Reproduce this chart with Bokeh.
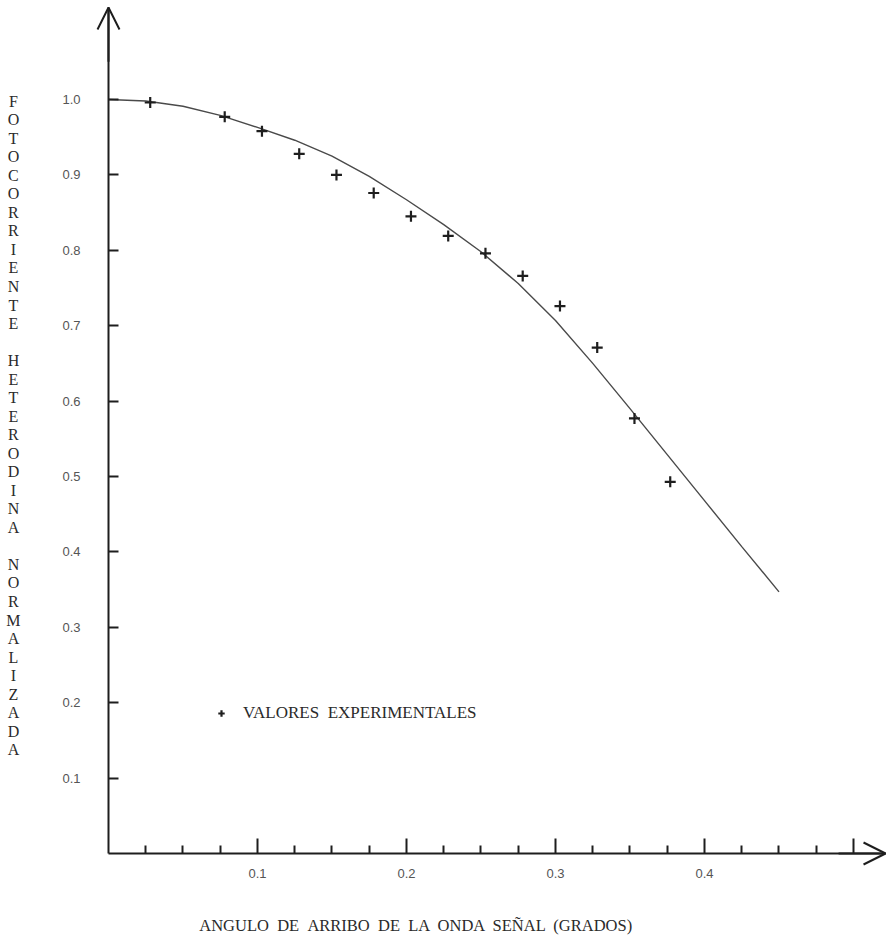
from bokeh.plotting import figure
from bokeh.models import (Range1d, FixedTicker, Arrow, OpenHead, Label,
                          Legend, LegendItem, PrintfTickFormatter)
from bokeh.embed import file_html
from bokeh.resources import INLINE

# ---- data ----
angle_exp = [0.028, 0.078, 0.103, 0.128, 0.153, 0.178, 0.203, 0.228,
             0.253, 0.278, 0.303, 0.328, 0.353, 0.377]
current_exp = [0.996, 0.977, 0.958, 0.928, 0.900, 0.876, 0.845, 0.819,
               0.796, 0.766, 0.726, 0.671, 0.577, 0.493]

angle_fit = [0.0, 0.025, 0.05, 0.075, 0.1, 0.125, 0.15, 0.175, 0.2, 0.225,
             0.25, 0.275, 0.3, 0.325, 0.35, 0.375, 0.4, 0.425, 0.45]
current_fit = [1.000, 0.998, 0.991, 0.979, 0.963, 0.946, 0.925, 0.898, 0.867,
               0.834, 0.798, 0.756, 0.707, 0.650, 0.590, 0.529, 0.468,
               0.407, 0.347]

x_major_ticks = [0.1, 0.2, 0.3, 0.4, 0.5]
x_minor_ticks = [0.025, 0.05, 0.075, 0.125, 0.15, 0.175, 0.225, 0.25, 0.275,
                 0.325, 0.35, 0.375, 0.425, 0.45, 0.475]
x_tick_labels = {0.1: "0.1", 0.2: "0.2", 0.3: "0.3", 0.4: "0.4", 0.5: ""}
y_major_ticks = [0.1, 0.2, 0.3, 0.4, 0.5, 0.6, 0.7, 0.8, 0.9, 1.0]

legend_words = ["VALORES", "EXPERIMENTALES"]
x_title_words = ["ANGULO", "DE", "ARRIBO", "DE", "LA", "ONDA", "SEÑAL",
                 "(GRADOS)"]
y_title_words = ["FOTOCORRIENTE", "HETERODINA", "NORMALIZADA"]

INK = "#1e1e1e"
TXT = "#2a2a2a"
WIDE_GAP = " \u00a0"  # two visible spaces between words

# frame covers the whole canvas: x=0 at 108 px, y=0 at 853 px
p = figure(width=886, height=945,
           x_range=Range1d(-0.07248, 0.52215),
           y_range=Range1d(-0.12202, 1.13130),
           output_backend="svg", toolbar_location=None,
           min_border=0, min_border_left=0, min_border_right=0,
           min_border_top=0, min_border_bottom=0)
p.outline_line_color = None
p.grid.visible = False
p.background_fill_color = "white"
p.border_fill_color = "white"

# x axis
xa = p.xaxis[0]
xa.fixed_location = 0
xa.bounds = (0, 0.5215)
xa.ticker = FixedTicker(ticks=x_major_ticks, minor_ticks=x_minor_ticks)
xa.formatter = PrintfTickFormatter(format="%.1f")
xa.major_label_overrides = x_tick_labels
xa.axis_line_width = 2
xa.axis_line_color = INK
xa.major_tick_in = 15
xa.major_tick_out = 0
xa.minor_tick_in = 8
xa.minor_tick_out = 0
xa.major_tick_line_width = 2
xa.minor_tick_line_width = 2
xa.major_tick_line_color = INK
xa.minor_tick_line_color = INK
xa.major_label_standoff = 16
xa.major_label_text_font = "Liberation Sans"
xa.major_label_text_font_size = "13px"
xa.major_label_text_color = "#555555"

# y axis
ya = p.yaxis[0]
ya.fixed_location = 0
ya.bounds = (0, 1.122)
ya.ticker = FixedTicker(ticks=y_major_ticks, minor_ticks=[])
ya.formatter = PrintfTickFormatter(format="%.1f")
ya.axis_line_width = 2
ya.axis_line_color = INK
ya.major_tick_in = 10
ya.major_tick_out = 0
ya.minor_tick_in = 0
ya.minor_tick_out = 0
ya.major_tick_line_width = 2
ya.major_tick_line_color = INK
ya.major_label_standoff = 28
ya.major_label_text_font = "Liberation Sans"
ya.major_label_text_font_size = "13px"
ya.major_label_text_color = "#555555"

# axis arrows
p.add_layout(Arrow(end=OpenHead(size=22, line_width=2, line_color=INK),
                   x_start=0, y_start=1.05, x_end=0, y_end=1.122,
                   line_width=2, line_color=INK))
p.add_layout(Arrow(end=OpenHead(size=22, line_width=2, line_color=INK),
                   x_start=0.49, y_start=0, x_end=0.5215, y_end=0,
                   line_width=2, line_color=INK))

# fitted curve
p.line(angle_fit, current_fit, line_color="#4a4a4a", line_width=1.4)

# experimental points
pts = p.scatter(angle_exp, current_exp, marker="cross", size=11,
                line_width=2.2, line_color=INK)

legend = Legend(items=[LegendItem(label=WIDE_GAP.join(legend_words),
                                  renderers=[pts])],
                location=(213, 222), border_line_color=None,
                background_fill_alpha=0, padding=0, margin=0, spacing=0,
                glyph_width=16, glyph_height=16, label_standoff=14,
                label_text_font="Liberation Serif",
                label_text_font_size="17px", label_text_color=TXT)
p.add_layout(legend)

# y title: letters stacked vertically, one blank line between words
y_text = "\n\n".join("\n".join(w) for w in y_title_words)
p.add_layout(Label(x=-0.0638, y=1.009, text=y_text,
                   text_align="center", text_baseline="top",
                   text_font="Liberation Serif", text_font_size="16px",
                   text_line_height=1.09, text_color=TXT))

# x title
p.add_layout(Label(x=0.207, y=-0.0955, text=WIDE_GAP.join(x_title_words),
                   text_align="center", text_baseline="middle",
                   text_font="Liberation Serif", text_font_size="16.5px",
                   text_color=TXT))

open("out.html", "w").write(file_html(p, INLINE))
